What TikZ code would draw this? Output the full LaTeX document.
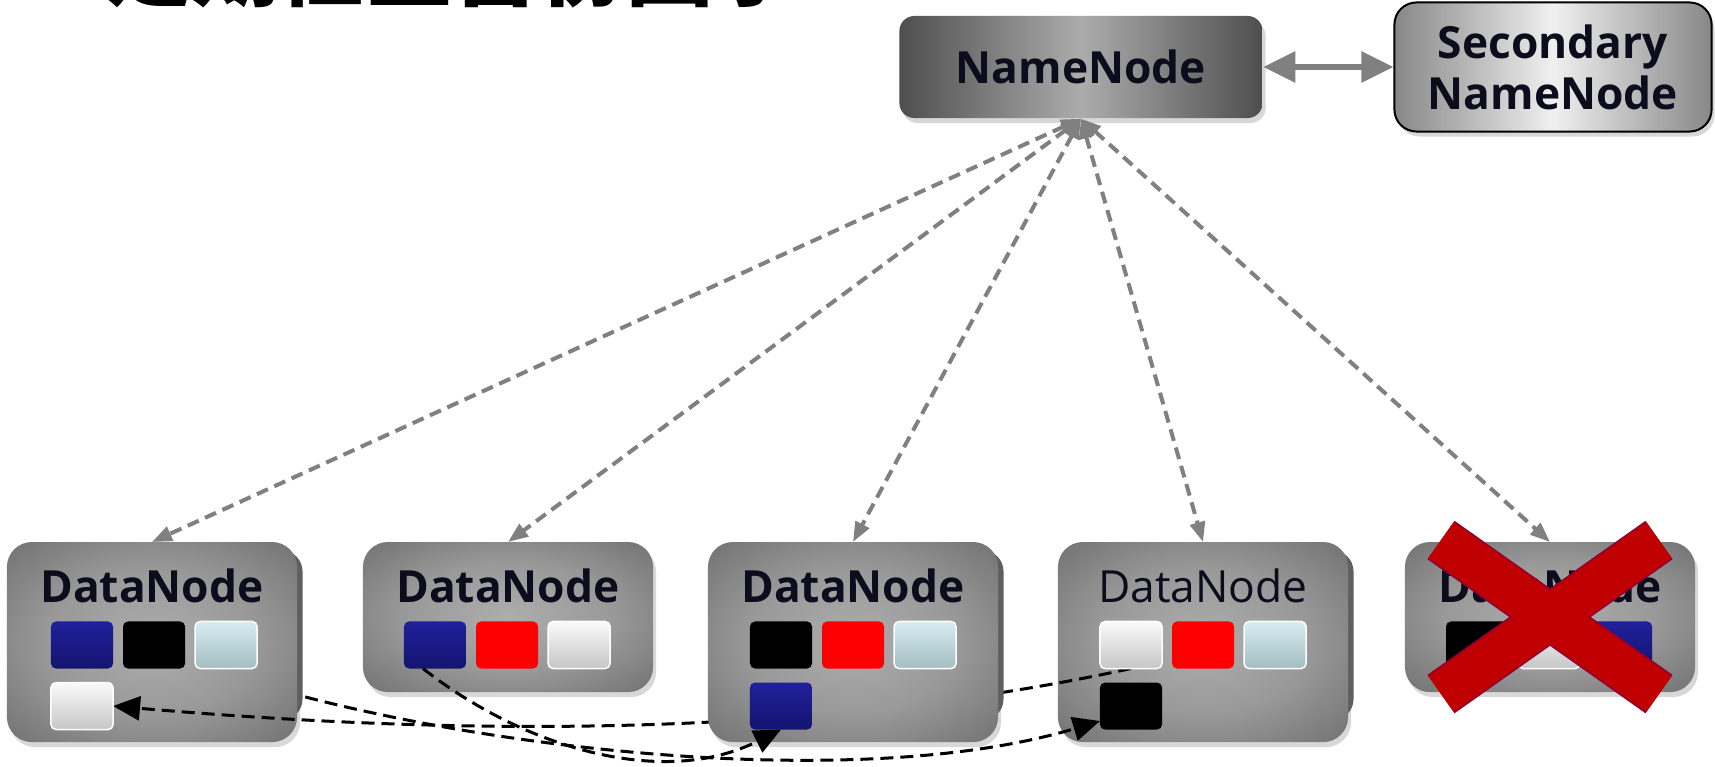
\documentclass[tikz,border=0pt]{standalone}
\usepackage{fontspec}
\setsansfont{Open Sans}
\newfontfamily\cjk{Noto Sans CJK SC}
\usetikzlibrary{positioning}
\usetikzlibrary{calc,shadows,arrows.meta}

\definecolor{inktext}{RGB}{12,12,28}
\definecolor{navytop}{RGB}{32,32,155}
\definecolor{navybot}{RGB}{20,20,112}
\definecolor{redblk}{RGB}{255,0,0}
\definecolor{icetop}{RGB}{214,236,240}
\definecolor{icebot}{RGB}{164,190,194}
\definecolor{snowtop}{RGB}{250,250,250}
\definecolor{snowbot}{RGB}{198,198,198}
\definecolor{nnside}{RGB}{78,78,78}
\definecolor{nnmid}{RGB}{172,172,172}
\definecolor{snnside}{RGB}{135,135,135}
\definecolor{snnmid}{RGB}{240,240,240}
\definecolor{crossred}{RGB}{192,0,0}
\definecolor{crossrim}{RGB}{150,0,45}
\definecolor{cardedge}{RGB}{95,95,95}

\pgfdeclareradialshading{dnshade}{\pgfpoint{0bp}{0bp}}{rgb(0bp)=(0.68,0.68,0.68); rgb(18bp)=(0.6,0.6,0.6); rgb(50bp)=(0.32,0.32,0.32); rgb(72bp)=(0.27,0.27,0.27)}

\pgfdeclarelayer{background}
\pgfdeclarelayer{lower}
\pgfdeclarelayer{lineb}
\pgfdeclarelayer{dnone}
\pgfdeclarelayer{linea}
\pgfdeclarelayer{dnthree}
\pgfsetlayers{background,lower,lineb,dnone,linea,dnthree,main}

\tikzset{
  labelfont/.style={font=\sffamily\bfseries\fontsize{12.6pt}{13.7pt}\selectfont},
  dnbox/.style={labelfont,anchor=north,rounded corners=0.25cm,minimum width=2.9cm,inner sep=0pt,outer sep=0pt,
    text height=0.6cm,text depth=1.4cm,shading=dnshade,text=inktext,
    drop shadow={opacity=0.3,shadow xshift=0.03cm,shadow yshift=-0.05cm}},
  lowbox/.style={text depth=0.9cm},
  thin/.style={font=\sffamily\fontsize{12.6pt}{13.7pt}\selectfont},
  card/.style={general shadow={fill=cardedge,shadow xshift=0.32cm,shadow yshift=0.08cm,shadow scale=0.85}},
  blk/.style={rounded corners=0.05cm,minimum width=0.62cm,minimum height=0.47cm,inner sep=0pt,outer sep=0pt},
  navy/.style={blk,top color=navytop,bottom color=navybot},
  coal/.style={blk,fill=black},
  crimson/.style={blk,fill=redblk},
  ice/.style={blk,top color=icetop,bottom color=icebot,draw=white,line width=0.015cm},
  snow/.style={blk,top color=snowtop,bottom color=snowbot,draw=white,line width=0.015cm},
  heartbeat/.style={draw=gray,line width=0.04cm,dash pattern=on 0.12cm off 0.07cm,
    {Triangle[length=0.2cm,width=0.15cm]}-{Triangle[length=0.2cm,width=0.15cm]}},
  copyline/.style={draw=black,line width=0.03cm,dash pattern=on 0.13cm off 0.07cm,-{Triangle[length=0.27cm,width=0.24cm]}},
  checkpoint/.style={draw=gray,line width=0.055cm,{Triangle[length=0.32cm,width=0.3cm]}-{Triangle[length=0.32cm,width=0.3cm]}},
  headline/.style={font=\cjk\bfseries\fontsize{24.7pt}{24.7pt}\selectfont,anchor=base west,inner sep=0pt},
}

\begin{document}
\begin{tikzpicture}[x=0.01cm,y=-0.01cm]
	\useasboundingbox (0,0) rectangle (1715,767);
	\begin{pgfonlayer}{background}
		\fill[white] (0,0) rectangle (1715,767);
	\end{pgfonlayer}

	% title, cut by the top edge
	\node [headline] (title) at (105,0) {定期检查备份因子};

	\node [labelfont,rounded corners=0.15cm,minimum width=3.63cm,minimum height=1.02cm,inner sep=0pt,text=inktext,
		left color=nnside,right color=nnside,middle color=nnmid,
		drop shadow={opacity=0.3,shadow xshift=0.03cm,shadow yshift=-0.05cm}] (nn) at (1081,67) {NameNode};
	\node [labelfont,align=center,font=\sffamily\bfseries\fontsize{12.6pt}{14.5pt}\selectfont,rounded corners=0.22cm,
		minimum width=3.17cm,minimum height=1.29cm,inner sep=0pt,text=inktext,draw=black,line width=0.02cm,
		left color=snnside,right color=snnside,middle color=snnmid,
		drop shadow={opacity=0.3,shadow xshift=0.03cm,shadow yshift=-0.05cm}] (snn) at (1553,67) {Secondary\\NameNode};
	\draw[checkpoint] (nn) -- (snn);

	% data nodes, stacked on layers
	\begin{pgfonlayer}{dnone}
		\node [dnbox,card] (dn1) at (152,542) {DataNode};
	\end{pgfonlayer}
	\begin{pgfonlayer}{lower}
		\node [dnbox,lowbox] (dn2) at (508,542) {DataNode};
		\node [dnbox,card,thin] (dn4) at (1203,542) {DataNode};
		\node [dnbox,lowbox] (dn5) at (1550,542) {DataNode};
	\end{pgfonlayer}
	\begin{pgfonlayer}{dnthree}
		\node [dnbox,card] (dn3) at (853,542) {DataNode};
	\end{pgfonlayer}

	\node [navy] (dn1_b0) at ($(dn1.north)+(-70,103)$) {};
	\node [coal,right=0.1cm of dn1_b0] (dn1_b1) {};
	\node [ice,right=0.1cm of dn1_b1] (dn1_b2) {};
	\node [snow,below=0.14cm of dn1_b0] (dn1_b3) {};

	\node [navy] (dn2_b0) at ($(dn2.north)+(-73,103)$) {};
	\node [crimson,right=0.1cm of dn2_b0] (dn2_b1) {};
	\node [snow,right=0.1cm of dn2_b1] (dn2_b2) {};

	\node [coal] (dn3_b0) at ($(dn3.north)+(-72,103)$) {};
	\node [crimson,right=0.1cm of dn3_b0] (dn3_b1) {};
	\node [ice,right=0.1cm of dn3_b1] (dn3_b2) {};
	\node [navy,below=0.14cm of dn3_b0] (dn3_b3) {};

	\node [snow] (dn4_b0) at ($(dn4.north)+(-72,103)$) {};
	\node [crimson,right=0.1cm of dn4_b0] (dn4_b1) {};
	\node [ice,right=0.1cm of dn4_b1] (dn4_b2) {};
	\node [coal,below=0.14cm of dn4_b0] (dn4_b3) {};

	\node [coal] (dn5_b0) at ($(dn5.north)+(-73,103)$) {};
	\node [snow,right=0.1cm of dn5_b0] (dn5_b1) {};
	\node [navy,right=0.1cm of dn5_b1] (dn5_b2) {};

	\foreach \i in {1,...,5}
		\draw[heartbeat] (nn.south) -- (dn\i.north);

	% re-replication of the lost blocks
	\begin{pgfonlayer}{linea}
		\draw[copyline] (dn4_b0.south) .. controls (800,740) and (450,735) .. (dn1_b3.east);
	\end{pgfonlayer}
	\begin{pgfonlayer}{lineb}
		\draw[copyline] (dn1_b1.center) .. controls (330,730) and (820,805) .. ([yshift=-0.15cm]dn4_b3.west);
	\end{pgfonlayer}
	\draw[copyline] ([xshift=-0.12cm]dn2_b0.south) .. controls (520,745) and (660,790) .. (dn3_b3.south);

	% failed node
	\coordinate (x_tl) at ($(dn5.center)+(-109,-77)$);
	\coordinate (x_br) at ($(dn5.center)+(109,77)$);
	\coordinate (x_tr) at ($(dn5.center)+(109,-77)$);
	\coordinate (x_bl) at ($(dn5.center)+(-109,77)$);
	\draw[crossrim,line width=0.47cm] (x_tl) -- (x_br) (x_tr) -- (x_bl);
	\draw[crossred,line width=0.43cm] (x_tl) -- (x_br) (x_tr) -- (x_bl);
\end{tikzpicture}
\end{document}
